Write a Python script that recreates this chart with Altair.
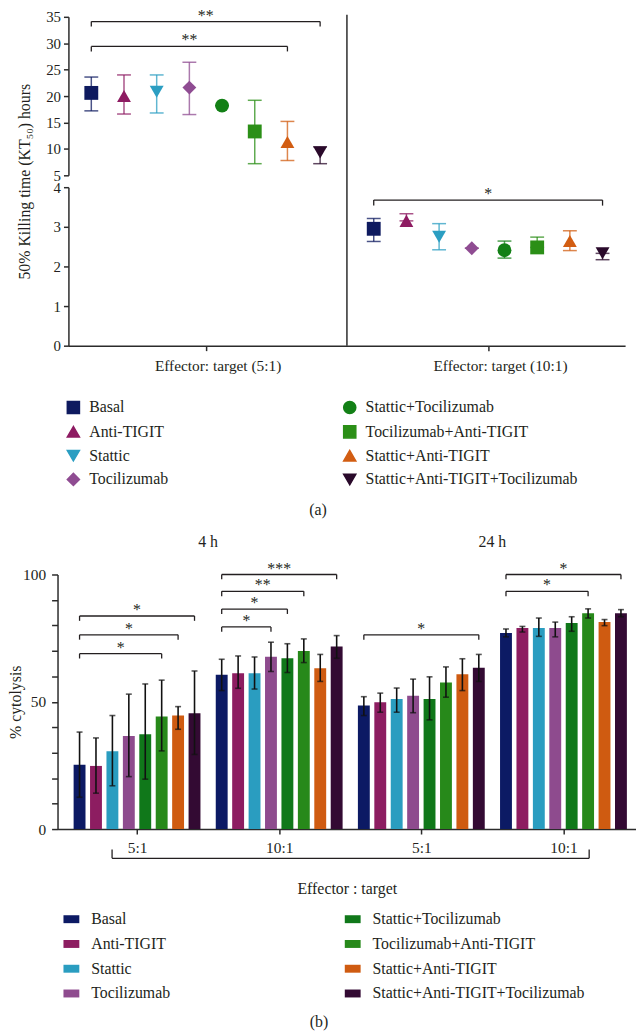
import altair as alt
import pandas as pd

FONT = "Liberation Serif"
INK = "#231f20"
AXIS = "#2b2b2b"

treatments = ["Basal", "Anti-TIGIT", "Stattic", "Tocilizumab",
              "Stattic+Tocilizumab", "Tocilizumab+Anti-TIGIT",
              "Stattic+Anti-TIGIT", "Stattic+Anti-TIGIT+Tocilizumab"]
colors_a = ["#0e1a5f", "#8e1b62", "#2b9ec2", "#8f4c92",
            "#138016", "#2b8f17", "#d25d12", "#2a0a2b"]
shapes_a = ["square", "triangle-up", "triangle-down", "diamond",
            "circle", "square", "triangle-up", "triangle-down"]
colors_b = ["#0c1a64", "#8d1d61", "#2a9dc0", "#8e4b8e",
            "#10781a", "#27891a", "#cf5b11", "#330a33"]

# ---------------- panel (a): KT50 ----------------
ratio_labels_a = ["Effector: target (5:1)", "Effector: target (10:1)"]
kt50_mean_5 = [20.6, 20.0, 20.8, 21.6, 18.2, 13.3, 11.3, 9.3]
kt50_low_5 = [17.2, 16.6, 16.8, 16.5, 18.2, 7.2, 7.8, 7.2]
kt50_high_5 = [23.6, 24.0, 24.0, 26.4, 18.2, 19.2, 15.2, 10.4]
kt50_mean_10 = [2.95, 3.15, 2.75, 2.46, 2.41, 2.48, 2.64, 2.33]
kt50_low_10 = [2.63, 3.15, 2.42, 2.46, 2.21, 2.48, 2.40, 2.17]
kt50_high_10 = [3.21, 3.33, 3.08, 2.46, 2.64, 2.74, 2.90, 2.33]

br_a_group = [0, 0, 1]
br_a_from = [0, 0, 0]
br_a_to = [7, 6, 7]
br_a_level = [34.1, 29.4, 3.675]
br_a_label = ["**", "**", "*"]

# ---------------- panel (b): cytolysis ----------------
time_labels = ["4 h", "24 h"]
ratio_labels_b = ["5:1", "10:1", "5:1", "10:1"]
cyto_mean_4h_5 = [25.3, 24.8, 30.6, 36.6, 37.2, 44.2, 44.6, 45.5]
cyto_low_4h_5 = [12.5, 14.1, 17.0, 20.6, 19.6, 30.7, 39.2, 29.3]
cyto_high_4h_5 = [38.1, 35.8, 44.6, 53.0, 57.0, 58.5, 48.1, 62.1]
cyto_mean_4h_10 = [60.6, 61.2, 61.2, 67.7, 67.1, 69.9, 63.2, 71.7]
cyto_low_4h_10 = [54.4, 55.3, 55.0, 61.9, 61.5, 65.4, 58.0, 67.1]
cyto_high_4h_10 = [66.7, 68.0, 67.6, 73.4, 72.8, 74.7, 68.6, 76.0]
cyto_mean_24h_5 = [48.5, 49.8, 51.1, 52.4, 51.1, 57.6, 60.8, 63.4]
cyto_low_24h_5 = [44.6, 45.9, 45.9, 45.7, 42.9, 51.8, 54.4, 58.0]
cyto_high_24h_5 = [52.0, 53.4, 55.4, 58.9, 59.8, 63.7, 66.9, 68.6]
cyto_mean_24h_10 = [77.0, 79.0, 79.0, 79.0, 80.9, 84.8, 81.3, 84.8]
cyto_low_24h_10 = [75.5, 77.4, 75.7, 75.5, 77.7, 82.9, 79.9, 83.4]
cyto_high_24h_10 = [78.6, 79.6, 82.9, 81.3, 83.4, 86.5, 82.3, 86.2]

br_b_group = [0, 0, 0, 1, 1, 1, 1, 2, 3, 3]
br_b_from = [0, 0, 0, 0, 0, 0, 0, 0, 0, 0]
br_b_to = [5, 6, 7, 3, 4, 5, 7, 7, 5, 7]
br_b_level = [68.9, 76.3, 83.7, 79.4, 86.4, 93.4, 100.0, 76.3, 93.4, 100.0]
br_b_label = ["*", "*", "*", "*", "*", "**", "***", "*", "*", "*"]

# ---------------- layout helpers ----------------
n = len(treatments)
legend_order = list(treatments)
idx = {t: i for i, t in enumerate(treatments)}

STRIDE_A = 8.64
STRIDE_B = 8.655
WA, HA = 562, 332
WB, HB = 584, 257

centers_a = [g * STRIDE_A + (n - 1) / 2 for g in range(2)]
centers_b = [g * STRIDE_B + (n - 1) / 2 for g in range(4)]


def label_expr(centers, labels):
    expr = "'%s'" % labels[-1]
    for k in range(len(centers) - 2, -1, -1):
        cut = (centers[k] + centers[k + 1]) / 2
        expr = "datum.value < %f ? '%s' : (%s)" % (cut, labels[k], expr)
    return expr


scale_xa = alt.Scale(domain=[-0.70, 16.33], nice=False, zero=False)
axis_xa = alt.Axis(values=centers_a, labelExpr=label_expr(centers_a, ratio_labels_a),
                   title=None, tickSize=5, labelPadding=8, labelOffset=12,
                   labelFontSize=15.5)
scale_up = alt.Scale(domain=[5, 35], range=[160, 0], nice=False, zero=False)
axis_up = alt.Axis(values=list(range(5, 36, 5)), orient="left",
                   title="50% Killing time (KT\u2085\u2080) hours",
                   titleX=-44, titleY=166, titleAlign="center", titleBaseline="middle",
                   titleAngle=-90, tickSize=5, labelPadding=3, labelFontSize=15)
scale_lo = alt.Scale(domain=[0, 4], range=[332, 172], nice=False, zero=False)
axis_lo = alt.Axis(values=[0, 1, 2, 3, 4], orient="left", title=None,
                   tickSize=5, labelPadding=3, labelFontSize=15)


def XA(f):
    return alt.X(f + ":Q", scale=scale_xa, axis=axis_xa)


def YU(f):
    return alt.Y(f + ":Q", scale=scale_up, axis=axis_up)


def YL(f):
    return alt.Y(f + ":Q", scale=scale_lo, axis=axis_lo)


legend_a = alt.Legend(orient="none", legendX=-3, legendY=386, columns=2,
                      columnPadding=173, rowPadding=5, symbolSize=150,
                      symbolOpacity=1, labelLimit=0,
                      labelOffset=8, title=None, padding=0, labelFontSize=16,
                      labelFont=FONT, labelColor=INK)
color_a = alt.Color("treatment:N", legend=legend_a,
                    scale=alt.Scale(domain=legend_order,
                                    range=[colors_a[idx[t]] for t in legend_order]))
shape_a = alt.Shape("treatment:N", legend=legend_a,
                    scale=alt.Scale(domain=legend_order,
                                    range=[shapes_a[idx[t]] for t in legend_order]))


def points_df(g, stride, mean, low, high):
    return pd.DataFrame({"treatment": treatments, "pos": [g * stride + i for i in range(n)],
                         "mean": mean, "lo": low, "hi": high})


df_a5 = points_df(0, STRIDE_A, kt50_mean_5, kt50_low_5, kt50_high_5)
df_a10 = points_df(1, STRIDE_A, kt50_mean_10, kt50_low_10, kt50_high_10)


def bracket_df(groups, froms, tos, levels, labels, stride, drop):
    rows = []
    for g, a, b, lv, lab in zip(groups, froms, tos, levels, labels):
        x1 = g * stride + a
        x2 = g * stride + b
        rows.append({"x1": x1, "x2": x2, "xm": (x1 + x2) / 2, "y": lv,
                     "y_end": lv - drop, "label": lab, "g": g})
    return pd.DataFrame(rows)


br_a = bracket_df(br_a_group, br_a_from, br_a_to, br_a_level, br_a_label, STRIDE_A, 0)
br_a["y_end"] = [lv - (0.95 if g == 0 else 0.14) for g, lv in zip(br_a["g"], br_a["y"])]
br_a_up = br_a[br_a["g"] == 0]
br_a_lo = br_a[br_a["g"] == 1]


def section(df, brk, Y, star_dy, err_opacity=0.75):
    base = alt.Chart(df)
    err = base.mark_rule(strokeWidth=1.5, opacity=err_opacity).encode(
        x=XA("pos"), y=Y("lo"), y2="hi", color=color_a)
    cap_hi = base.mark_tick(orient="horizontal", size=14, thickness=1.5,
                            opacity=err_opacity).encode(x=XA("pos"), y=Y("hi"), color=color_a)
    cap_lo = base.mark_tick(orient="horizontal", size=14, thickness=1.5,
                            opacity=err_opacity).encode(x=XA("pos"), y=Y("lo"), color=color_a)
    pts = base.mark_point(filled=True, size=196, opacity=1).encode(
        x=XA("pos"), y=Y("mean"), color=color_a, shape=shape_a)
    bb = alt.Chart(brk)
    h = bb.mark_rule(color=INK, strokeWidth=1.3).encode(x=XA("x1"), x2="x2", y=Y("y"))
    l = bb.mark_rule(color=INK, strokeWidth=1.3).encode(x=XA("x1"), y=Y("y"), y2="y_end")
    r = bb.mark_rule(color=INK, strokeWidth=1.3).encode(x=XA("x2"), y=Y("y"), y2="y_end")
    t = bb.mark_text(font=FONT, fontSize=16, color=INK, baseline="alphabetic", dy=star_dy).encode(
        x=XA("xm"), y=Y("y"), text="label:N")
    return [err, cap_hi, cap_lo, pts, h, l, r, t]


mid_a = (centers_a[0] + centers_a[1]) / 2
divider = alt.Chart(pd.DataFrame({"x": [mid_a], "y0": [0.0], "y1": [8.35]})).mark_rule(
    color=AXIS, strokeWidth=1.5).encode(x=XA("x"), y=YL("y0"), y2="y1")

upper = alt.layer(*section(df_a5, br_a_up, YU, -1))
lower = alt.layer(*(section(df_a10, br_a_lo, YL, -1) + [divider]))
cap_a = alt.Chart(pd.DataFrame({"t": ["(a)"]})).mark_text(
    font=FONT, fontSize=16, color=INK).encode(text="t:N", x=alt.value(252), y=alt.value(498))

panel_a = alt.layer(upper, lower, cap_a).resolve_scale(y="independent").properties(
    width=WA, height=HA)

# ---------------- panel (b) ----------------
scale_xb = alt.Scale(domain=[-1.04, 33.58], nice=False, zero=False)
axis_xb = alt.Axis(values=centers_b, labelExpr=label_expr(centers_b, ratio_labels_b),
                   title="Effector : target", tickSize=5, labelPadding=7,
                   titlePadding=25, labelFontSize=15.5)
scale_yb = alt.Scale(domain=[0, 100], nice=False)
axis_yb = alt.Axis(values=list(range(0, 101, 10)),
                   labelExpr="datum.value % 50 === 0 ? datum.label : ''",
                   title="% cytolysis", titleX=-42, titleY=128.5, titleAlign="center",
                   titleBaseline="middle", titleAngle=-90, tickSize=6, labelPadding=6)


def XB(f):
    return alt.X(f + ":Q", scale=scale_xb, axis=axis_xb)


def YB(f):
    return alt.Y(f + ":Q", scale=scale_yb, axis=axis_yb)


legend_b = alt.Legend(orient="none", legendX=6, legendY=340, columns=2,
                      columnPadding=176, rowPadding=9, symbolSize=256,
                      symbolType="M-1,-0.5H1V0.5H-1Z", symbolStrokeWidth=0,
                      symbolOpacity=1, labelLimit=0,
                      labelOffset=12, title=None, padding=0, labelFontSize=16,
                      labelFont=FONT, labelColor=INK)
color_b = alt.Color("treatment:N", legend=legend_b,
                    scale=alt.Scale(domain=legend_order,
                                    range=[colors_b[idx[t]] for t in legend_order]))

df_b = pd.concat([
    points_df(0, STRIDE_B, cyto_mean_4h_5, cyto_low_4h_5, cyto_high_4h_5),
    points_df(1, STRIDE_B, cyto_mean_4h_10, cyto_low_4h_10, cyto_high_4h_10),
    points_df(2, STRIDE_B, cyto_mean_24h_5, cyto_low_24h_5, cyto_high_24h_5),
    points_df(3, STRIDE_B, cyto_mean_24h_10, cyto_low_24h_10, cyto_high_24h_10),
], ignore_index=True)
br_b = bracket_df(br_b_group, br_b_from, br_b_to, br_b_level, br_b_label, STRIDE_B, 1.9)

bb = alt.Chart(df_b)
bars = bb.mark_bar(size=12).encode(x=XB("pos"), y=YB("mean"), color=color_b)
err_b = bb.mark_rule(color="#111111", strokeWidth=1.6).encode(x=XB("pos"), y=YB("lo"), y2="hi")
caphi_b = bb.mark_tick(orient="horizontal", size=6, thickness=1.6, color="#111111").encode(
    x=XB("pos"), y=YB("hi"))
caplo_b = bb.mark_tick(orient="horizontal", size=6, thickness=1.6, color="#111111").encode(
    x=XB("pos"), y=YB("lo"))

bk = alt.Chart(br_b)
bh = bk.mark_rule(color=INK, strokeWidth=1.3).encode(x=XB("x1"), x2="x2", y=YB("y"))
bl = bk.mark_rule(color=INK, strokeWidth=1.3).encode(x=XB("x1"), y=YB("y"), y2="y_end")
br = bk.mark_rule(color=INK, strokeWidth=1.3).encode(x=XB("x2"), y=YB("y"), y2="y_end")
bt = bk.mark_text(font=FONT, fontSize=16, color=INK, baseline="alphabetic", dy=-1).encode(
    x=XB("xm"), y=YB("y"), text="label:N")

times_df = pd.DataFrame({"label": time_labels,
                         "x": [(centers_b[0] + centers_b[1]) / 2, (centers_b[2] + centers_b[3]) / 2],
                         "y": [112.8, 112.8]})
times = alt.Chart(times_df).mark_text(font=FONT, fontSize=16, color=INK, baseline="middle").encode(
    x=XB("x"), y=YB("y"), text="label:N")

under = pd.DataFrame({"x1": [1.98], "x2": [31.03], "y": [-11.5], "y_end": [-8.0]})
uc = alt.Chart(under)
uh = uc.mark_rule(color=INK, strokeWidth=1.3).encode(x=XB("x1"), x2="x2", y=YB("y"))
ul = uc.mark_rule(color=INK, strokeWidth=1.3).encode(x=XB("x1"), y=YB("y"), y2="y_end")
ur = uc.mark_rule(color=INK, strokeWidth=1.3).encode(x=XB("x2"), y=YB("y"), y2="y_end")

cap_b = alt.Chart(pd.DataFrame({"t": ["(b)"]})).mark_text(
    font=FONT, fontSize=16, color=INK).encode(text="t:N", x=alt.value(264), y=alt.value(452))

panel_b = alt.layer(bars, err_b, caphi_b, caplo_b, bh, bl, br, bt, times, uh, ul, ur, cap_b).properties(
    width=WB, height=HB)

chart = alt.vconcat(panel_a, panel_b, spacing=231, center=True, bounds="flush").resolve_scale(
    x="independent", y="independent", color="independent", shape="independent"
).properties(
    padding={"left": 0, "top": -6, "right": 0, "bottom": 0}
).configure_view(stroke=None).configure_axis(
    labelFont=FONT, titleFont=FONT, labelFontSize=15.5, titleFontSize=16,
    titleFontWeight="normal", labelColor=INK, titleColor=INK,
    domainColor=AXIS, tickColor=AXIS, domainWidth=1.5, tickWidth=1.5, grid=False
).configure_legend(labelFont=FONT, labelFontSize=16, labelColor=INK)

chart.save("out.html", embed_options={"renderer": "svg", "actions": False})
